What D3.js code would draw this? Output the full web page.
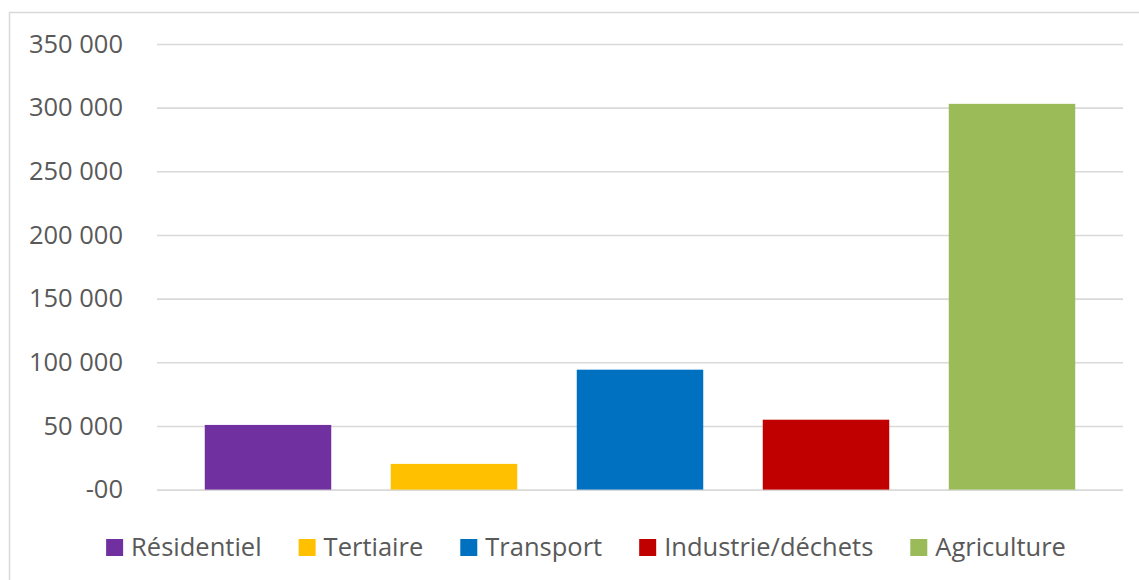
<!DOCTYPE html>
<html>
<head>
<meta charset="utf-8">
<script src="https://cdn.jsdelivr.net/npm/d3@7"></script>
<style>
  body { margin: 0; background: #fff; }
  svg { display: block; font-family: "Open Sans", sans-serif; }
</style>
</head>
<body>
<div class="chart"></div>
<script>
// data
var categories = ["Résidentiel", "Tertiaire", "Transport", "Industrie/déchets", "Agriculture"];
var values = [50800, 20200, 94200, 54900, 303000];
var colors = ["#7030a0", "#ffc000", "#0070c0", "#c00000", "#9bbb59"];
var tickValues = [0, 50000, 100000, 150000, 200000, 250000, 300000, 350000];
var tickLabels = ["-00", "50 000", "100 000", "150 000", "200 000", "250 000", "300 000", "350 000"];

var W = 1139, H = 580;
var svg = d3.select('.chart').append('svg')
  .attr('width', W)
  .attr('height', H);

// chart frame
svg.append('rect')
  .attr('x', 9.5).attr('y', 12.5)
  .attr('width', W + 20).attr('height', H + 20)
  .attr('fill', 'none')
  .attr('stroke', '#d9d9d9')
  .attr('stroke-width', 1.5);

var y = d3.scaleLinear().domain([0, 350000]).range([489.6, 44]);
var x = d3.scaleBand().domain(categories).range([175, 1105])
  .paddingInner(0.32).paddingOuter(0.16);

var gridL = 157, gridR = 1123;

// gridlines
svg.append('g')
  .attr('transform', 'translate(' + gridR + ',0)')
  .call(d3.axisLeft(y).tickValues(tickValues).tickSize(gridR - gridL).tickFormat(''))
  .call(function(g) {
    g.select('.domain').remove();
    g.selectAll('line').attr('stroke', '#d9d9d9').attr('stroke-width', 1.6);
  });

// y labels
svg.append('g')
  .attr('transform', 'translate(123,0)')
  .call(d3.axisLeft(y).tickValues(tickValues).tickSize(0).tickPadding(0)
    .tickFormat(function(d, i) { return tickLabels[i]; }))
  .call(function(g) {
    g.select('.domain').remove();
    g.selectAll('text')
      .attr('fill', '#595959')
      .style('font-size', '25.5px')
      .style('font-family', '"Open Sans", sans-serif');
  });

// bars
svg.append('g').selectAll('rect')
  .data(categories)
  .join('rect')
  .attr('x', function(d) { return x(d); })
  .attr('width', x.bandwidth())
  .attr('y', function(d, i) { return y(values[i]); })
  .attr('height', function(d, i) { return y(0) - y(values[i]); })
  .attr('fill', function(d, i) { return colors[i]; });

// legend
var legend = svg.append('g');
var items = legend.selectAll('g')
  .data(categories)
  .join('g');
items.append('rect')
  .attr('width', 17).attr('height', 17)
  .attr('y', -17)
  .attr('fill', function(d, i) { return colors[i]; });
items.append('text')
  .attr('x', 25)
  .attr('y', 0)
  .attr('fill', '#595959')
  .style('font-size', '25.5px')
  .text(function(d) { return d; });

var pos = 0, gap = 37;
items.each(function() {
  var w = 25 + this.querySelector('text').getComputedTextLength();
  d3.select(this).attr('transform', 'translate(' + pos + ',0)');
  pos += w + gap;
});
var total = pos - gap;
legend.attr('transform', 'translate(' + (586 - total / 2) + ',556)');
</script>
</body>
</html>
